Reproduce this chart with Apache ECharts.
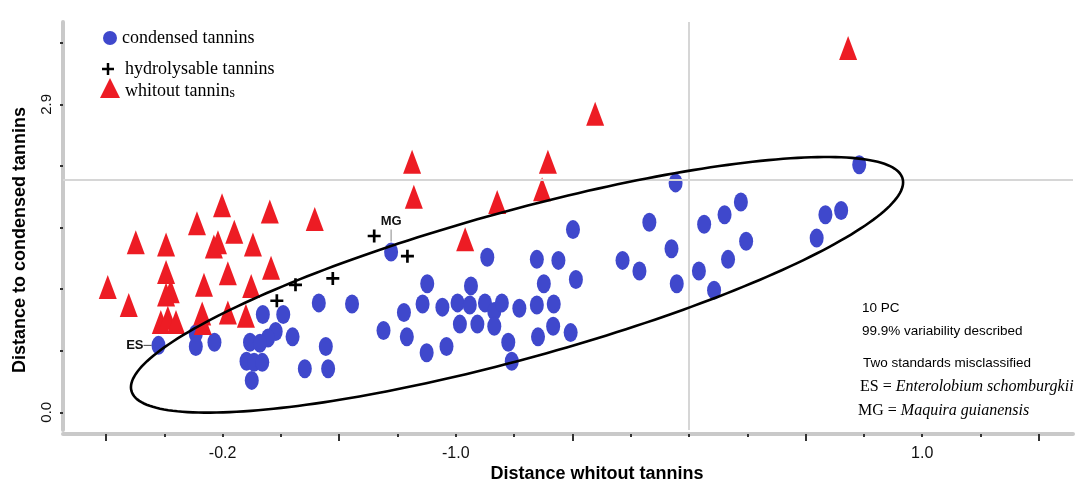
<!DOCTYPE html>
<html>
<head>
<meta charset="utf-8">
<script src="https://cdn.jsdelivr.net/npm/echarts@6/dist/echarts.min.js"></script>
<style>
  html, body { margin: 0; padding: 0; background: #fff; }
  #chart { width: 1089px; height: 484px; }
</style>
</head>
<body>
<div id="chart"></div>
<script>
// ---- data (axis units: x in tick steps, y in distance units) ----
const condensedTannins = [
  [0.90, 0.63],
  [1.54, 0.74], [1.54, 0.62], [1.86, 0.66],
  [2.69, 0.92], [3.04, 0.92], [2.91, 0.76], [2.78, 0.70], [2.47, 0.66], [2.64, 0.65], [3.20, 0.71],
  [2.41, 0.48], [2.54, 0.47], [2.68, 0.47], [2.50, 0.30],
  [3.41, 0.41], [3.81, 0.41], [3.77, 0.62], [3.65, 1.03], [4.22, 1.02], [4.76, 0.77],
  [4.89, 1.51],
  [5.11, 0.94], [5.16, 0.71], [5.50, 0.56], [5.51, 1.21], [5.43, 1.02], [5.77, 0.99], [5.84, 0.62],
  [6.03, 1.03], [6.07, 0.83], [6.26, 1.19], [6.24, 1.01], [6.37, 0.83], [6.50, 1.03], [6.66, 0.95],
  [6.66, 0.81], [6.79, 1.03], [6.54, 1.46],
  [6.90, 0.66], [6.96, 0.48], [7.09, 0.98], [7.39, 1.44], [7.51, 1.21], [7.39, 1.01], [7.68, 1.02],
  [7.41, 0.71], [7.67, 0.81], [7.97, 0.75],
  [7.76, 1.43], [8.01, 1.72], [8.06, 1.25], [8.86, 1.43], [9.15, 1.33], [9.32, 1.79], [9.70, 1.54],
  [9.79, 1.21], [9.77, 2.16],
  [10.17, 1.33], [10.26, 1.77], [10.61, 1.86], [10.89, 1.98], [10.67, 1.44], [10.98, 1.61], [10.43, 1.15],
  [12.19, 1.64], [12.34, 1.86], [12.61, 1.90], [12.92, 2.33]
];
const hydrolysableTannins = [
  [4.60, 1.66], [5.17, 1.47], [3.89, 1.26], [3.25, 1.20], [2.93, 1.05]
];
const withoutTannins = [
  [0.03, 1.18], [0.39, 1.01], [0.51, 1.60], [1.03, 1.58], [1.03, 1.32], [1.11, 1.14], [1.03, 1.11],
  [0.94, 0.85], [1.06, 0.89], [1.20, 0.85],
  [1.56, 1.78], [1.68, 1.20], [1.65, 0.93], [1.66, 0.84],
  [1.85, 1.56], [1.92, 1.60], [1.99, 1.95], [2.09, 1.31], [2.09, 0.94], [2.20, 1.70], [2.40, 0.91],
  [2.52, 1.58], [2.49, 1.19], [2.81, 1.89], [2.83, 1.36], [3.58, 1.82],
  [5.25, 2.36], [5.28, 2.03], [6.16, 1.63], [6.71, 1.98], [7.48, 2.10], [7.58, 2.36], [8.39, 2.81],
  [12.73, 3.43]
];
// misclassified standards: [tag, index in condensedTannins]
const misclassified = [['ES', 0], ['MG', 21]];

// classification boundary: centre and two conjugate semi-axis vectors
const ellipseCenter = [7.05, 1.20];
const ellipseAxisA = [6.614, 1.0];
const ellipseAxisB = [0.335, -0.67];

// reference lines
const refX = 10;
const refY = 2.19;

// ticks and tick labels
const xTicks = [0, 1, 2, 3, 4, 5, 6, 7, 8, 9, 10, 11, 12, 13, 14, 15, 16];
const xMajorTicks = [0, 4, 8, 12, 16];
const xLabelTicks = [2, 6, 14];
const xLabelTexts = ['-0.2', '-1.0', '1.0'];
const yTicks = [0, 0.58, 1.16, 1.74, 2.32, 2.9, 3.48];
const yLabelTicks = [0, 2.9];

const seriesNames = ['condensed tannins', 'hydrolysable tannins', 'whitout tannins'];
const notes = [
  '10 PC',
  '99.9% variability described',
  'Two standards misclassified'
];

const SANS = '"Liberation Sans", Arial, sans-serif';
const SERIF = '"Liberation Serif", "Times New Roman", serif';
const BLUE = '#3f48cc';
const RED = '#ed1c24';
const PLUS = 'path://M5,0H7.6V5H12.6V7.6H7.6V12.6H5V7.6H0V5H5Z';

const chart = echarts.init(document.getElementById('chart'), null, { renderer: 'canvas' });

const condensedData = condensedTannins.map(function (p, i) {
  const tag = misclassified.find(function (m) { return m[1] === i; });
  if (!tag) return p;
  if (tag[0] === 'ES') {
    return {
      value: p,
      label: {
        show: true, position: 'left', distance: 0,
        formatter: '{t|ES}{l|}',
        rich: {
          t: { fontFamily: SANS, fontWeight: 'bold', fontSize: 13, color: '#111' },
          l: { width: 8, height: 1, backgroundColor: '#444' }
        }
      }
    };
  }
  return {
    value: p,
    label: {
      show: true, position: 'top', distance: 1,
      formatter: '{t|MG}\n{l|}',
      rich: {
        t: { fontFamily: SANS, fontWeight: 'bold', fontSize: 13, color: '#111', align: 'center', lineHeight: 15 },
        l: { width: 1, height: 12, backgroundColor: '#888', align: 'center' }
      }
    }
  };
});

const axisLineStyle = { color: '#c9c9c9', width: 4 };

const option = {
  backgroundColor: '#ffffff',
  animation: false,
  grid: { left: 63, right: 16, top: 22, bottom: 54, containLabel: false },
  legend: [
    {
      data: [seriesNames[0]], left: 103, top: 29, padding: 0, selectedMode: false,
      itemWidth: 14, itemHeight: 18, symbolKeepAspect: false,
      textStyle: { fontFamily: SERIF, fontSize: 18, color: '#000' }
    },
    {
      data: [seriesNames[1]], left: 102, top: 60, padding: 0, selectedMode: false,
      itemWidth: 12, itemHeight: 12,
      textStyle: { fontFamily: SERIF, fontSize: 18, color: '#000', padding: [0, 0, 0, 6] }
    },
    {
      data: [seriesNames[2]], left: 100, top: 78, padding: 0, selectedMode: false,
      itemWidth: 20, itemHeight: 20, symbolKeepAspect: false,
      formatter: function (name) { return '{a|' + name.slice(0, -1) + '}{b|' + name.slice(-1) + '}'; },
      textStyle: {
        fontFamily: SERIF, fontSize: 18, color: '#000', padding: [6, 0, 0, 0],
        rich: {
          a: { fontFamily: SERIF, fontSize: 18, color: '#000' },
          b: { fontFamily: SERIF, fontSize: 14, color: '#000', verticalAlign: 'bottom', padding: [3, 0, 0, 0] }
        }
      }
    }
  ],
  xAxis: [
    {
      type: 'value', min: -0.738, max: 16.587, position: 'bottom', offset: 4,
      axisLine: { show: true, onZero: false, lineStyle: axisLineStyle },
      axisTick: { show: true, customValues: xTicks, length: 3, lineStyle: { color: '#333', width: 2 } },
      axisLabel: {
        show: true, customValues: xLabelTicks, margin: 12,
        fontFamily: SANS, fontSize: 16, color: '#111',
        formatter: function (v) {
          const k = xLabelTicks.findIndex(function (t) { return Math.abs(t - v) < 1e-6; });
          return k < 0 ? '' : xLabelTexts[k];
        }
      },
      splitLine: { show: false }
    },
    {
      type: 'value', min: -0.738, max: 16.587, position: 'bottom', offset: 4,
      axisLine: { show: false, onZero: false },
      axisTick: { show: true, customValues: xMajorTicks, length: 7, lineStyle: { color: '#333', width: 2 } },
      axisLabel: { show: false },
      splitLine: { show: false }
    }
  ],
  yAxis: {
    type: 'value', min: -0.167, max: 3.675,
    axisLine: { show: true, onZero: false, lineStyle: axisLineStyle },
    axisTick: { show: true, customValues: yTicks, length: 3, lineStyle: { color: '#333', width: 2 } },
    axisLabel: {
      show: true, customValues: yLabelTicks, rotate: 90, margin: 9,
      fontFamily: SANS, fontSize: 15, color: '#111',
      formatter: function (v) { return Number(v).toFixed(1); }
    },
    splitLine: { show: false }
  },
  graphic: [
    {
      type: 'text', x: 20, y: 240, rotation: Math.PI / 2, silent: true,
      style: { text: 'Distance to condensed tannins', fontFamily: SANS, fontWeight: 'bold', fontSize: 18,
        fill: '#000', align: 'center', verticalAlign: 'middle' }
    },
    {
      type: 'text', x: 597, y: 474, silent: true,
      style: { text: 'Distance whitout tannins', fontFamily: SANS, fontWeight: 'bold', fontSize: 18,
        fill: '#000', align: 'center', verticalAlign: 'middle' }
    },
    {
      type: 'text', x: 862, y: 308, silent: true,
      style: { text: notes[0], fontFamily: SANS, fontSize: 13.5, fill: '#000', verticalAlign: 'middle' }
    },
    {
      type: 'text', x: 862, y: 331, silent: true,
      style: { text: notes[1], fontFamily: SANS, fontSize: 13.5, fill: '#000', verticalAlign: 'middle' }
    },
    {
      type: 'text', x: 863, y: 363, silent: true,
      style: { text: notes[2], fontFamily: SANS, fontSize: 13.5, fill: '#000', verticalAlign: 'middle' }
    },
    {
      type: 'text', x: 860, y: 387, silent: true,
      style: {
        text: '{n|ES = }{i|Enterolobium schomburgkii}', verticalAlign: 'middle',
        rich: {
          n: { fontFamily: SERIF, fontSize: 16, fill: '#000' },
          i: { fontFamily: SERIF, fontSize: 16, fontStyle: 'italic', fill: '#000' }
        }
      }
    },
    {
      type: 'text', x: 858, y: 411, silent: true,
      style: {
        text: '{n|MG = }{i|Maquira guianensis}', verticalAlign: 'middle',
        rich: {
          n: { fontFamily: SERIF, fontSize: 16, fill: '#000' },
          i: { fontFamily: SERIF, fontSize: 16, fontStyle: 'italic', fill: '#000' }
        }
      }
    }
  ],
  series: [
    {
      type: 'line', data: [], z: 1, silent: true,
      markLine: {
        silent: true, symbol: 'none', label: { show: false },
        lineStyle: { color: '#d6d6d6', width: 2, type: 'solid' },
        data: [{ xAxis: refX }, { yAxis: refY }]
      }
    },
    {
      name: seriesNames[0], type: 'scatter', z: 2,
      symbol: 'circle', symbolSize: [14, 19],
      itemStyle: { color: BLUE, opacity: 1 },
      data: condensedData
    },
    {
      name: seriesNames[2], type: 'scatter', z: 3,
      symbol: 'triangle', symbolSize: [18, 24],
      itemStyle: { color: RED, opacity: 1 },
      data: withoutTannins
    },
    {
      name: seriesNames[1], type: 'scatter', z: 4,
      symbol: PLUS, symbolSize: 13,
      itemStyle: { color: '#000', opacity: 1 },
      data: hydrolysableTannins
    },
    {
      type: 'custom', z: 5, silent: true,
      data: [ellipseCenter],
      renderItem: function (params, api) {
        const pts = [];
        const n = 240;
        for (let i = 0; i < n; i++) {
          const t = (i / n) * Math.PI * 2;
          const c = Math.cos(t), s = Math.sin(t);
          pts.push(api.coord([
            ellipseCenter[0] + c * ellipseAxisA[0] + s * ellipseAxisB[0],
            ellipseCenter[1] + c * ellipseAxisA[1] + s * ellipseAxisB[1]
          ]));
        }
        return {
          type: 'polygon',
          shape: { points: pts },
          style: { fill: 'none', stroke: '#000', lineWidth: 2.6 }
        };
      }
    }
  ]
};

chart.setOption(option);
</script>
</body>
</html>
